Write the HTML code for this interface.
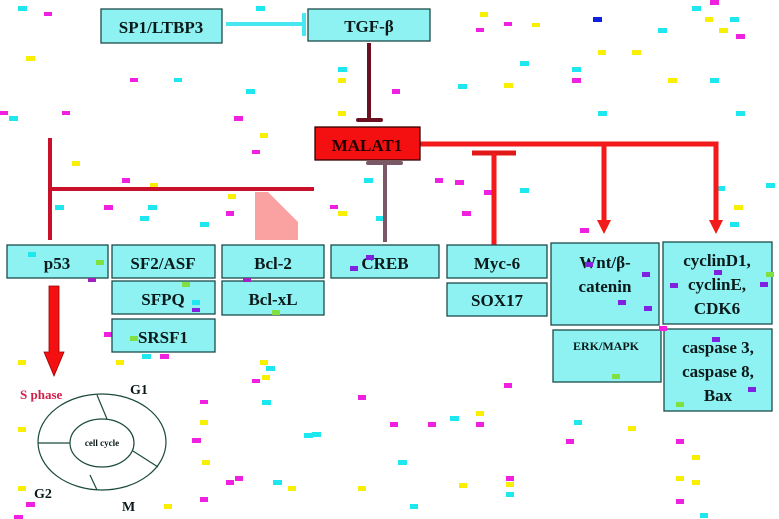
<!DOCTYPE html>
<html><head><meta charset="utf-8"><style>
html,body{margin:0;padding:0;background:#fff;width:779px;height:519px;overflow:hidden}
svg{display:block}
text{font-family:"Liberation Serif",serif;font-weight:bold;fill:#0a1a1a}
.b{fill:#8ff2f2;stroke:#1d4a4a;stroke-width:1.3}
</style></head><body>
<svg width="779" height="519" viewBox="0 0 779 519" xmlns="http://www.w3.org/2000/svg">
<!-- confetti -->
<g>
<rect x="18" y="6" width="9" height="5" fill="#1de8f0"/><rect x="44" y="12" width="8" height="4" fill="#f020e0"/>
<rect x="26" y="56" width="9" height="5" fill="#f8f000"/><rect x="130" y="78" width="8" height="4" fill="#f020e0"/>
<rect x="174" y="78" width="8" height="4" fill="#1de8f0"/><rect x="246" y="89" width="9" height="5" fill="#1de8f0"/>
<rect x="0" y="111" width="8" height="4" fill="#f020e0"/><rect x="9" y="116" width="9" height="5" fill="#1de8f0"/>
<rect x="62" y="111" width="8" height="4" fill="#f020e0"/><rect x="234" y="116" width="9" height="5" fill="#f020e0"/>
<rect x="260" y="133" width="8" height="5" fill="#f8f000"/><rect x="252" y="150" width="8" height="4" fill="#f020e0"/>
<rect x="72" y="161" width="8" height="5" fill="#f8f000"/><rect x="122" y="178" width="8" height="5" fill="#f020e0"/>
<rect x="150" y="183" width="8" height="4" fill="#f8f000"/><rect x="228" y="194" width="8" height="5" fill="#f8f000"/>
<rect x="55" y="205" width="9" height="5" fill="#1de8f0"/><rect x="104" y="205" width="9" height="5" fill="#f020e0"/>
<rect x="148" y="205" width="9" height="5" fill="#1de8f0"/><rect x="140" y="216" width="9" height="5" fill="#1de8f0"/>
<rect x="200" y="222" width="9" height="5" fill="#1de8f0"/><rect x="226" y="211" width="8" height="5" fill="#f020e0"/>
<rect x="256" y="6" width="9" height="5" fill="#1de8f0"/><rect x="338" y="67" width="9" height="5" fill="#1de8f0"/>
<rect x="338" y="78" width="8" height="5" fill="#f8f000"/><rect x="392" y="89" width="8" height="5" fill="#f020e0"/>
<rect x="338" y="111" width="8" height="5" fill="#f8f000"/><rect x="364" y="178" width="9" height="5" fill="#1de8f0"/>
<rect x="330" y="205" width="8" height="4" fill="#f020e0"/><rect x="338" y="211" width="9" height="5" fill="#f8f000"/>
<rect x="376" y="216" width="9" height="5" fill="#1de8f0"/><rect x="435" y="178" width="8" height="5" fill="#f020e0"/>
<rect x="504" y="22" width="8" height="4" fill="#f020e0"/><rect x="532" y="23" width="8" height="4" fill="#f8f000"/>
<rect x="593" y="17" width="9" height="5" fill="#1020e0"/><rect x="480" y="12" width="8" height="5" fill="#f8f000"/>
<rect x="476" y="28" width="8" height="4" fill="#f020e0"/><rect x="658" y="28" width="9" height="5" fill="#1de8f0"/>
<rect x="692" y="6" width="9" height="5" fill="#1de8f0"/><rect x="710" y="0" width="9" height="5" fill="#f020e0"/>
<rect x="705" y="17" width="8" height="5" fill="#f8f000"/><rect x="730" y="17" width="9" height="5" fill="#1de8f0"/>
<rect x="719" y="28" width="9" height="5" fill="#f8f000"/><rect x="736" y="34" width="9" height="5" fill="#f020e0"/>
<rect x="598" y="50" width="8" height="5" fill="#f8f000"/><rect x="632" y="50" width="9" height="5" fill="#f8f000"/>
<rect x="520" y="61" width="9" height="5" fill="#1de8f0"/><rect x="572" y="67" width="9" height="5" fill="#1de8f0"/>
<rect x="572" y="78" width="9" height="5" fill="#f020e0"/><rect x="668" y="78" width="9" height="5" fill="#f8f000"/>
<rect x="710" y="78" width="9" height="5" fill="#1de8f0"/><rect x="458" y="84" width="9" height="5" fill="#1de8f0"/>
<rect x="504" y="83" width="9" height="5" fill="#f8f000"/><rect x="598" y="111" width="9" height="5" fill="#1de8f0"/>
<rect x="736" y="111" width="9" height="5" fill="#1de8f0"/><rect x="716" y="186" width="9" height="5" fill="#1de8f0"/>
<rect x="766" y="183" width="9" height="5" fill="#1de8f0"/><rect x="734" y="205" width="9" height="5" fill="#f8f000"/>
<rect x="730" y="222" width="9" height="5" fill="#1de8f0"/><rect x="462" y="211" width="9" height="5" fill="#f020e0"/>
<rect x="455" y="180" width="9" height="5" fill="#f020e0"/><rect x="484" y="190" width="8" height="5" fill="#f020e0"/>
<rect x="520" y="188" width="9" height="5" fill="#1de8f0"/><rect x="580" y="228" width="9" height="5" fill="#f020e0"/>
<rect x="252" y="379" width="8" height="4" fill="#f020e0"/><rect x="262" y="375" width="8" height="5" fill="#f8f000"/>
<rect x="266" y="366" width="9" height="5" fill="#1de8f0"/><rect x="200" y="400" width="8" height="4" fill="#f020e0"/>
<rect x="200" y="420" width="8" height="5" fill="#f8f000"/><rect x="262" y="400" width="9" height="5" fill="#1de8f0"/>
<rect x="304" y="433" width="9" height="5" fill="#1de8f0"/><rect x="358" y="395" width="8" height="5" fill="#f020e0"/>
<rect x="390" y="422" width="8" height="5" fill="#f020e0"/><rect x="428" y="422" width="8" height="5" fill="#f020e0"/>
<rect x="450" y="416" width="9" height="5" fill="#1de8f0"/><rect x="476" y="411" width="8" height="5" fill="#f8f000"/>
<rect x="476" y="422" width="8" height="5" fill="#f020e0"/><rect x="504" y="383" width="8" height="5" fill="#f020e0"/>
<rect x="398" y="460" width="9" height="5" fill="#1de8f0"/><rect x="226" y="480" width="8" height="5" fill="#f020e0"/>
<rect x="235" y="476" width="8" height="5" fill="#f020e0"/><rect x="273" y="480" width="9" height="5" fill="#1de8f0"/>
<rect x="288" y="486" width="8" height="5" fill="#f8f000"/><rect x="358" y="486" width="8" height="5" fill="#f8f000"/>
<rect x="459" y="483" width="8" height="5" fill="#f8f000"/><rect x="506" y="476" width="8" height="5" fill="#f020e0"/>
<rect x="506" y="482" width="8" height="5" fill="#f8f000"/><rect x="506" y="492" width="8" height="5" fill="#1de8f0"/>
<rect x="410" y="504" width="8" height="5" fill="#1de8f0"/><rect x="574" y="420" width="8" height="5" fill="#1de8f0"/>
<rect x="566" y="439" width="8" height="5" fill="#f020e0"/><rect x="628" y="426" width="8" height="5" fill="#f8f000"/>
<rect x="676" y="476" width="8" height="5" fill="#f8f000"/><rect x="692" y="480" width="8" height="5" fill="#f8f000"/>
<rect x="676" y="499" width="8" height="5" fill="#f020e0"/><rect x="676" y="439" width="8" height="5" fill="#f020e0"/>
<rect x="692" y="455" width="8" height="5" fill="#f8f000"/><rect x="700" y="513" width="8" height="5" fill="#1de8f0"/>
<rect x="18" y="486" width="8" height="5" fill="#f8f000"/><rect x="26" y="502" width="9" height="5" fill="#f020e0"/>
<rect x="14" y="515" width="9" height="4" fill="#f020e0"/><rect x="18" y="427" width="8" height="5" fill="#f8f000"/>
<rect x="18" y="360" width="8" height="5" fill="#f8f000"/><rect x="116" y="360" width="8" height="5" fill="#f8f000"/>
<rect x="260" y="360" width="8" height="5" fill="#f8f000"/><rect x="192" y="438" width="9" height="5" fill="#f020e0"/>
<rect x="312" y="432" width="9" height="5" fill="#1de8f0"/><rect x="202" y="460" width="8" height="5" fill="#f8f000"/>
<rect x="164" y="504" width="8" height="5" fill="#f8f000"/><rect x="200" y="497" width="8" height="5" fill="#f020e0"/>
<rect x="104" y="332" width="8" height="5" fill="#f020e0"/><rect x="142" y="354" width="9" height="5" fill="#1de8f0"/>
<rect x="160" y="354" width="9" height="5" fill="#f020e0"/>
</g>
<!-- pink shape -->
<path d="M255 192 L268 192 L298 222 L298 240 L255 240 Z" fill="#f99090" opacity="0.85"/>
<!-- SP1 to TGF -->
<line x1="226" y1="24" x2="304" y2="24" stroke="#48e8f2" stroke-width="4"/>
<line x1="304" y1="13" x2="304" y2="36" stroke="#48e8f2" stroke-width="4"/>
<!-- TGF to MALAT1 -->
<line x1="369" y1="43" x2="369" y2="120" stroke="#6b1020" stroke-width="4"/>
<line x1="358" y1="120" x2="381" y2="120" stroke="#6b1020" stroke-width="4" stroke-linecap="round"/>
<!-- CREB line -->
<line x1="385" y1="163" x2="385" y2="242" stroke="#7a5868" stroke-width="4"/>
<line x1="368" y1="163" x2="401" y2="163" stroke="#7a5868" stroke-width="4" stroke-linecap="round"/>
<!-- right red -->
<polyline points="420,144 716,144 716,222" fill="none" stroke="#f21a1a" stroke-width="5"/>
<line x1="604" y1="144" x2="604" y2="222" stroke="#f21a1a" stroke-width="5"/>
<polygon points="597,220 611,220 604,234" fill="#f21a1a"/>
<polygon points="709,220 723,220 716,234" fill="#f21a1a"/>
<line x1="472" y1="153" x2="516" y2="153" stroke="#e01818" stroke-width="5"/>
<line x1="494" y1="153" x2="494" y2="245" stroke="#f21a1a" stroke-width="5"/>
<!-- left crimson -->
<line x1="50" y1="189" x2="314" y2="189" stroke="#c8102a" stroke-width="4"/>
<line x1="50" y1="138" x2="50" y2="240" stroke="#c8102a" stroke-width="4"/>
<!-- MALAT1 -->
<rect x="315" y="127" width="105" height="33" fill="#f41010" stroke="#300" stroke-width="1.3"/>
<text x="367" y="151" font-size="17" text-anchor="middle" style="fill:#200">MALAT1</text>
<!-- boxes -->
<rect class="b" x="101" y="9" width="121" height="34"/><text x="161" y="33" font-size="17" text-anchor="middle">SP1/LTBP3</text>
<rect class="b" x="308" y="9" width="122" height="32"/><text x="369" y="32" font-size="17" text-anchor="middle">TGF-β</text>
<rect class="b" x="7" y="245" width="101" height="33"/><text x="57" y="269" font-size="17" text-anchor="middle">p53</text>
<rect class="b" x="112" y="245" width="103" height="33"/><text x="163" y="269" font-size="17" text-anchor="middle">SF2/ASF</text>
<rect class="b" x="112" y="281" width="103" height="33"/><text x="163" y="305" font-size="17" text-anchor="middle">SFPQ</text>
<rect class="b" x="112" y="319" width="103" height="33"/><text x="163" y="343" font-size="17" text-anchor="middle">SRSF1</text>
<rect class="b" x="222" y="245" width="102" height="33"/><text x="273" y="269" font-size="17" text-anchor="middle">Bcl-2</text>
<rect class="b" x="222" y="281" width="102" height="34"/><text x="273" y="305" font-size="17" text-anchor="middle">Bcl-xL</text>
<rect class="b" x="331" y="245" width="108" height="33"/><text x="385" y="269" font-size="17" text-anchor="middle">CREB</text>
<rect class="b" x="447" y="245" width="100" height="33"/><text x="497" y="269" font-size="17" text-anchor="middle">Myc-6</text>
<rect class="b" x="447" y="283" width="100" height="33"/><text x="497" y="306" font-size="17" text-anchor="middle">SOX17</text>
<rect class="b" x="551" y="243" width="108" height="82"/><text x="605" y="268" font-size="17" text-anchor="middle">Wnt/β-</text><text x="605" y="292" font-size="17" text-anchor="middle">catenin</text>
<rect class="b" x="553" y="330" width="108" height="52"/><text x="606" y="350" font-size="12" text-anchor="middle">ERK/MAPK</text>
<rect class="b" x="663" y="242" width="109" height="82"/><text x="717" y="266" font-size="17" text-anchor="middle">cyclinD1,</text><text x="717" y="290" font-size="17" text-anchor="middle">cyclinE,</text><text x="717" y="314" font-size="17" text-anchor="middle">CDK6</text>
<rect class="b" x="664" y="329" width="108" height="82"/><text x="718" y="353" font-size="17" text-anchor="middle">caspase 3,</text><text x="718" y="377" font-size="17" text-anchor="middle">caspase 8,</text><text x="718" y="401" font-size="17" text-anchor="middle">Bax</text>
<!-- small confetti on boxes -->
<rect x="28" y="252" width="8" height="5" fill="#1de8f0"/><rect x="96" y="260" width="8" height="5" fill="#80e040"/>
<rect x="88" y="278" width="8" height="4" fill="#a020c0"/><rect x="182" y="282" width="8" height="5" fill="#80e040"/>
<rect x="192" y="300" width="8" height="5" fill="#1de8f0"/><rect x="192" y="308" width="8" height="4" fill="#8020e0"/>
<rect x="130" y="336" width="8" height="5" fill="#80e040"/><rect x="243" y="278" width="8" height="4" fill="#a020c0"/>
<rect x="272" y="310" width="8" height="5" fill="#80e040"/><rect x="366" y="255" width="8" height="5" fill="#8020e0"/>
<rect x="350" y="266" width="8" height="5" fill="#8020e0"/><rect x="585" y="262" width="8" height="5" fill="#8020e0"/>
<rect x="642" y="272" width="8" height="5" fill="#8020e0"/><rect x="618" y="300" width="8" height="5" fill="#8020e0"/>
<rect x="644" y="306" width="8" height="5" fill="#8020e0"/><rect x="659" y="326" width="8" height="5" fill="#f020e0"/>
<rect x="760" y="282" width="8" height="5" fill="#8020e0"/><rect x="670" y="283" width="8" height="5" fill="#8020e0"/>
<rect x="714" y="270" width="8" height="5" fill="#8020e0"/><rect x="766" y="272" width="8" height="5" fill="#80e040"/>
<rect x="712" y="337" width="8" height="5" fill="#8020e0"/><rect x="748" y="387" width="8" height="5" fill="#8020e0"/>
<rect x="676" y="402" width="8" height="5" fill="#80e040"/><rect x="612" y="374" width="8" height="5" fill="#80e040"/>
<!-- big arrow -->
<polygon points="49,286 59,286 59,352 64,352 54,376 44,352 49,352" fill="#f41010" stroke="#900" stroke-width="0.8"/>
<!-- cell cycle -->
<g fill="none" stroke="#1a4a3a" stroke-width="1.2">
<ellipse cx="102" cy="442" rx="64" ry="48"/>
<ellipse cx="102" cy="443" rx="32" ry="24"/>
<line x1="97" y1="395" x2="107" y2="419"/><line x1="38" y1="443" x2="70" y2="443"/>
<line x1="133" y1="451" x2="158" y2="467"/><line x1="90" y1="475" x2="97" y2="490"/>
</g>
<text x="102" y="446" font-size="9" text-anchor="middle">cell cycle</text>
<text x="20" y="399" font-size="13" style="fill:#d0204a">S phase</text>
<text x="130" y="394" font-size="14">G1</text>
<text x="34" y="498" font-size="14">G2</text>
<text x="122" y="511" font-size="14">M</text>
</svg>
</body></html>
